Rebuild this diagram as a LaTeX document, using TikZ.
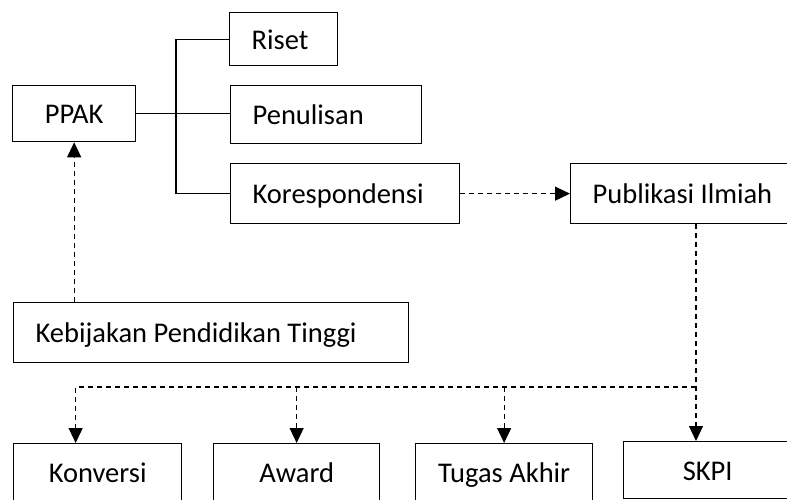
\documentclass[tikz,border=0pt]{standalone}
\usepackage{fontspec}
\setmainfont{Carlito}
\usetikzlibrary{arrows.meta, positioning}

\begin{document}
\begin{tikzpicture}[x=1pt, y=-1pt, >={Triangle[width=14pt,length=15pt]},
    box/.style={draw, line width=1.3pt, inner ysep=0pt, text height=20pt, text depth=0pt, anchor=north west, font=\fontsize{28.5}{32}\selectfont},
    lbox/.style={box, align=flush left, inner xsep=22pt},
    cbox/.style={box, align=flush center, inner xsep=0pt},
    link/.style={line width=1.2pt},
    dlink/.style={line width=1.2pt, dash pattern=on 5pt off 4pt, ->}]
      \useasboundingbox (0,0) rectangle (787,500);
      \clip (0,0) rectangle (787,500);
      % top row
      \node[cbox, minimum width=123pt, minimum height=56pt] (ppak) at (12,85) {PPAK};
      \node[lbox, text width=64pt, minimum height=53pt] (riset) at (229,12) {Riset};
      \node[lbox, text width=147pt, minimum height=58pt] (penulisan) at (230,85) {Penulisan};
      \node[lbox, text width=185pt, minimum height=60pt] (koresp) at (230,163) {Korespondensi};
      \node[lbox, text width=185pt, minimum height=60pt] (publikasi) at (570,163) {Publikasi Ilmiah};
      \node[lbox, text width=351pt, minimum height=60pt] (kebijakan) at (13,302) {Kebijakan Pendidikan Tinggi};
      % bottom row
      \node[cbox, minimum width=168pt, minimum height=57pt] (konversi) at (13,443) {Konversi};
      \node[cbox, minimum width=166pt, minimum height=57pt] (award) at (213,443) {Award};
      \node[cbox, minimum width=177pt, minimum height=57pt] (tugas) at (415,443) {Tugas Akhir};
      \node[cbox, minimum width=168pt, minimum height=57pt] (skpi) at (623,441) {SKPI};
      \coordinate (trunk) at (176,113);
      \coordinate (split) at (696,387);
      \draw[link] (ppak.east) -- (ppak.east -| penulisan.west);
      \draw[link] (riset.west) -| (trunk) |- (koresp.west);
      \draw[dlink] (ppak.south |- kebijakan.north) -- (ppak.south);
      \draw[dlink] (koresp.east) -- (publikasi.west);
      \draw[dlink] (split |- publikasi.south) -- (split |- skpi.north);
      \draw[dlink] (split) -| ([xshift=-22pt]konversi.north);
      \draw[dlink] (split -| award.north) -- (award.north);
      \draw[dlink] (split -| tugas.north) -- (tugas.north);
    \end{tikzpicture}
\end{document}
